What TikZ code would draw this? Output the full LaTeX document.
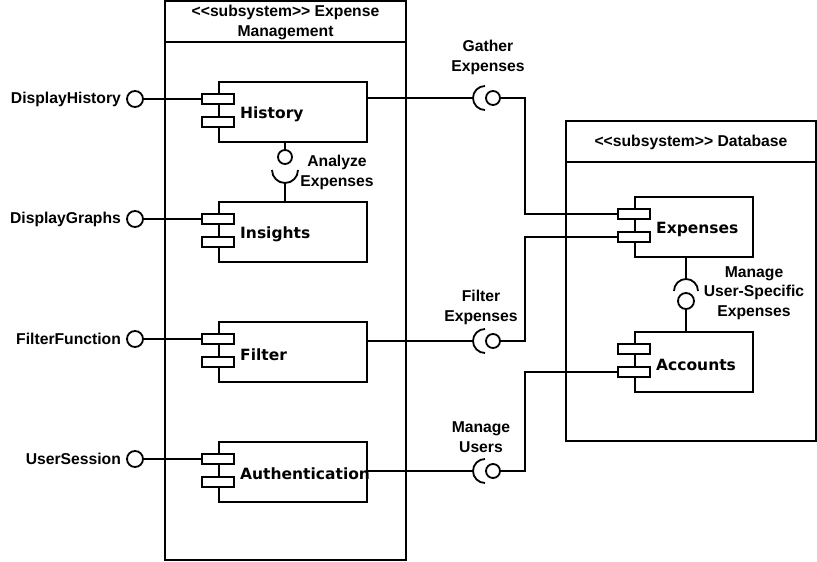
\documentclass[tikz,border=0pt]{standalone}
\usepackage{fontspec}
\setmainfont{Liberation Sans}
\newfontfamily\compfont{DejaVu Sans}
\newcommand\dlt{<\kern0pt<}
\newcommand\dgt{>\kern0pt>}
\tikzset{
 subsys/.style={draw, line width=1.8pt},
 comp/.style={draw, fill=white, line width=1.8pt, minimum width=148pt, minimum height=60pt, inner sep=0pt, anchor=north west},
 port/.style={draw, fill=white, line width=1.8pt, minimum width=32pt, minimum height=10.5pt, inner sep=0pt},
 ctext/.style={font=\compfont\bfseries\fontsize{15.5}{18}\selectfont, anchor=west, inner sep=0pt},
 lbl/.style={font=\bfseries\fontsize{15.7}{20}\selectfont, align=center, inner sep=0pt},
 ball/.style={circle, draw, fill=white, line width=1.8pt, minimum size=16pt, inner sep=0pt},
 sball/.style={circle, draw, fill=white, line width=1.8pt, minimum size=14pt, inner sep=0pt},
 wire/.style={line width=1.8pt},
}
\begin{document}
\begin{tikzpicture}[x=1pt,y=-1pt]
\useasboundingbox[fill=white] (0,0) rectangle (817,562);
% subsystems
\draw[subsys] (165,1) rectangle (406,560);
\draw[subsys] (165,42) -- (406,42);
\node[lbl] (emH) at (285.5,22) {\dlt subsystem\dgt{} Expense\\Management};
\draw[subsys] (566,121) rectangle (816,441);
\draw[subsys] (566,162) -- (816,162);
\node[lbl] (dbH) at (691,142) {\dlt subsystem\dgt{} Database};
% components left
\node[comp] (hist) at (218,81) {};
\node[comp] (ins) at (218,201) {};
\node[comp] (filt) at (218,321) {};
\node[comp] (auth) at (218,441) {};
\node[port] (hp1) at (218,99) {};
\node[port] (hp2) at (218,122) {};
\node[port] (ip1) at (218,219) {};
\node[port] (ip2) at (218,242) {};
\node[port] (fp1) at (218,339) {};
\node[port] (fp2) at (218,362) {};
\node[port] (up1) at (218,459) {};
\node[port] (up2) at (218,482) {};
\node[ctext] (histT) at (240,114.5) {History};
\node[ctext] (insT) at (240,234.5) {Insights};
\node[ctext] (filtT) at (240,354.5) {Filter};
\node[ctext] (authT) at (240,474) {Authentication};
% components right
\node[comp, minimum width=118pt] (exp) at (634,196) {};
\node[comp, minimum width=118pt] (acc) at (634,331) {};
\node[port] (ep1) at (634,214) {};
\node[port] (ep2) at (634,237) {};
\node[port] (ap1) at (634,349) {};
\node[port] (ap2) at (634,372) {};
\node[ctext] (expT) at (656,229.5) {Expenses};
\node[ctext] (accT) at (656,364.5) {Accounts};
% left provided interfaces
\node[ball] (dh) at (135,99) {};
\node[ball] (dg) at (135,219) {};
\node[ball] (ff) at (135,339) {};
\node[ball] (us) at (135,459) {};
\node[lbl, anchor=east] (dhL) at ([xshift=-5pt]dh.west) {DisplayHistory};
\node[lbl, anchor=east] (dgL) at ([xshift=-5pt]dg.west) {DisplayGraphs};
\node[lbl, anchor=east] (ffL) at ([xshift=-5pt]ff.west) {FilterFunction};
\node[lbl, anchor=east] (usL) at ([xshift=-5pt]us.west) {UserSession};
\draw[wire] (dh.east) -- (hp1.west);
\draw[wire] (dg.east) -- (ip1.west);
\draw[wire] (ff.east) -- (fp1.west);
\draw[wire] (us.east) -- (up1.west);
% Analyze Expenses
\coordinate (hBot) at (285,141);
\node[sball] (aBall) at (285,157) {};
\draw[wire] (hBot) -- (aBall.north);
\draw[wire] (272,170) arc[start angle=180, end angle=0, radius=13];
\coordinate (aSock) at (285,183);
\coordinate (iTop) at (285,201);
\draw[wire] (aSock) -- (iTop);
\node[lbl] (aL) at (337,172) {Analyze\\Expenses};
% Gather Expenses
\coordinate (hOut) at (366,98);
\coordinate (gSock) at (473,98);
\node[sball] (gBall) at (493,98) {};
\coordinate (gBend) at (525,98);
\draw[wire] (hOut) -- (gSock);
\draw[wire] (485,86) arc[start angle=270, end angle=90, radius=12];
\draw[wire] (gBall.east) -- (gBend) |- (ep1.west);
\node[lbl] (gL) at (488,57.5) {Gather\\Expenses};
% Filter Expenses
\coordinate (fOut) at (366,341);
\coordinate (fSock) at (473,341);
\node[sball] (fBall) at (493,341) {};
\coordinate (fBend) at (525,341);
\draw[wire] (fOut) -- (fSock);
\draw[wire] (485,329) arc[start angle=270, end angle=90, radius=12];
\draw[wire] (fBall.east) -- (fBend) |- (ep2.west);
\node[lbl] (fL) at (481,307.5) {Filter\\Expenses};
% Manage Users
\coordinate (uOut) at (366,471);
\coordinate (uSock) at (473,471);
\node[sball] (uBall) at (493,471) {};
\coordinate (uBend) at (525,471);
\draw[wire] (uOut) -- (uSock);
\draw[wire] (485,459) arc[start angle=270, end angle=90, radius=12];
\draw[wire] (uBall.east) -- (uBend) |- (ap2.west);
\node[lbl] (uL) at (481,437.5) {Manage\\Users};
% Manage User-Specific Expenses
\coordinate (eBot) at (686,256);
\coordinate (mSock) at (686,279);
\draw[wire] (eBot) -- (mSock);
\draw[wire] (674,291) arc[start angle=180, end angle=360, radius=12];
\node[ball] (mBall) at (686,301) {};
\coordinate (aTop) at (686,331);
\draw[wire] (mBall.south) -- (aTop);
\node[lbl, font=\bfseries\fontsize{15.7}{19.3}\selectfont] (mL) at (754,293) {Manage\\User-Specific\\Expenses};
\end{tikzpicture}
\end{document}
